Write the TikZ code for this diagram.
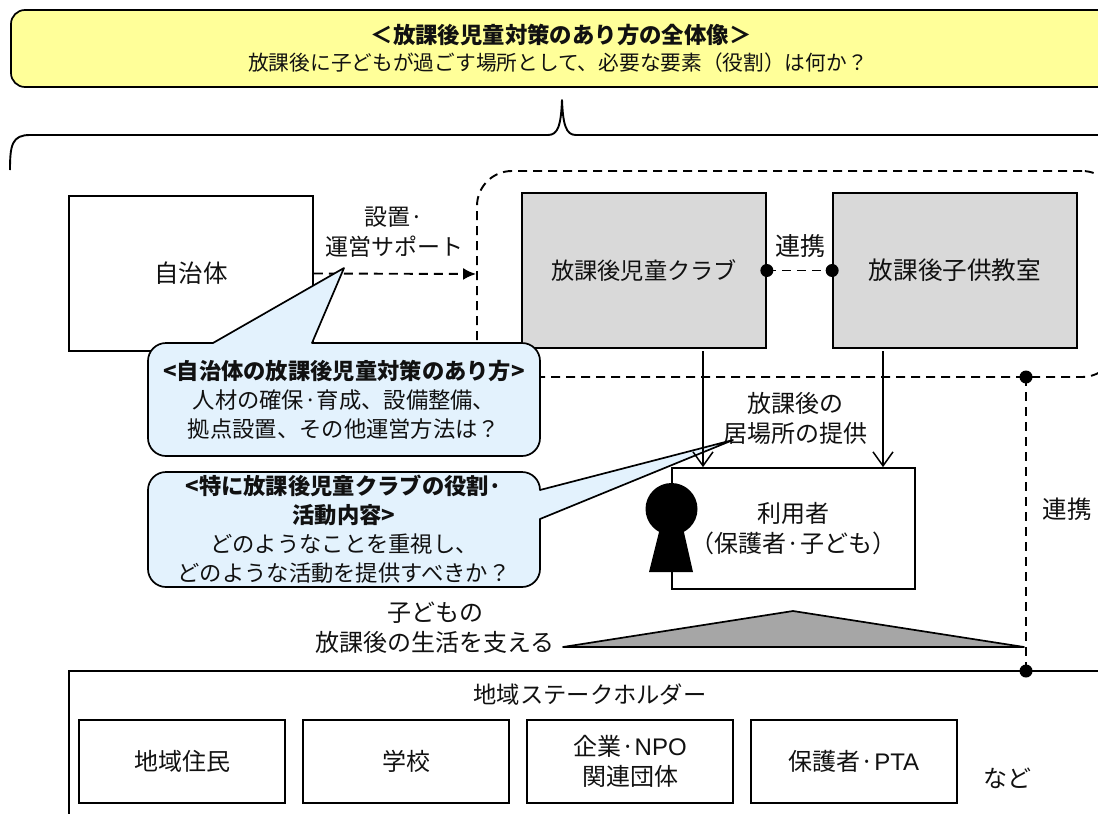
\documentclass[tikz,border=0pt]{standalone}
\usepackage{fontspec}
\usetikzlibrary{arrows.meta}
\setmainfont{Noto Sans CJK JP}
\newfontfamily\latinfont{Liberation Sans}
\definecolor{titlefill}{HTML}{FFFF99}
\definecolor{callfill}{HTML}{E3F2FD}
\definecolor{orgfill}{HTML}{D9D9D9}
\definecolor{trifill}{HTML}{A6A6A6}
\definecolor{inkc}{HTML}{111111}
\tikzset{
  lbl/.style={inner sep=0pt,align=center,text=inkc,font=\fontsize{24}{30}\selectfont},
  calltext/.style={lbl,font=\fontsize{22.3}{29}\selectfont},
  box/.style={lbl,draw=black,line width=1.7pt,inner sep=0pt},
  orgbox/.style={box,fill=orgfill,minimum width=244pt,minimum height=155pt},
  subbox/.style={box,minimum width=206pt,minimum height=83pt},
  dashline/.style={line width=1.9pt,dash pattern=on 9pt off 6pt},
  callout/.style={draw=black,fill=callfill,line width=1.7pt,line join=round},
  linkarrow/.style={line width=1.5pt,-{Straight Barb[length=14pt,width=20pt,line width=1.5pt]}}
}
\begin{document}
\begin{tikzpicture}[x=1pt,y=-1pt]
\useasboundingbox (0,0) rectangle (1098,814);
\begin{scope}
\clip (0,0) rectangle (1098,814);
\fill[white] (0,0) rectangle (1098,814);
% title
\node[box,fill=titlefill,rounded corners=14pt,minimum width=1110pt,minimum height=77pt] (title) at (566,48.5) {};
\node[lbl,font=\fontsize{22.4}{28}\selectfont] (t1) at (561,35) {\textbf{＜放課後児童対策のあり方の全体像＞}};
\node[lbl,font=\fontsize{20.7}{28}\selectfont] (t2) at (558,63) {放課後に子どもが過ごす場所として、必要な要素（役割）は何か？};
% brace
\draw[line width=1.9pt,line join=round] (10,170) .. controls (10,145) and (12,135) .. (30,135) -- (548,135) .. controls (558,135) and (561,125) .. (562,100) .. controls (563,125) and (566,135) .. (576,135) -- (1110,135);
% dashed group
\node[draw=black,dashline,rounded corners=35pt,minimum width=640pt,minimum height=206pt] (group) at (797,274) {};
% organisations
\node[box,minimum width=244pt,minimum height=155pt,font=\fontsize{24.5}{30}\selectfont] (jichi) at (191,273.5) {\raisebox{-2.5pt}{自治体}};
\node[orgbox,font=\fontsize{23.2}{30}\selectfont] (club) at (644,270.5) {\raisebox{-1.5pt}{放課後児童クラブ}};
\node[orgbox,font=\fontsize{24.6}{30}\selectfont] (kyo) at (955,270.5) {\raisebox{-1.5pt}{放課後子供教室}};
\node[box,minimum width=243pt,minimum height=121pt] (user) at (793.5,528.5) {利用者\\（保護者·子ども）};
% stakeholders
\node[box,minimum width=1100pt,minimum height=300pt] (stake) at (619,821) {};
\node[lbl,font=\fontsize{23.3}{28}\selectfont] (staketxt) at (590,695) {地域ステークホルダー};
\node[subbox] (s1) at (182,761.5) {地域住民};
\node[subbox] (s2) at (406,761.5) {学校};
\node[subbox] (s3) at (630,761.5) {\raisebox{-2pt}{企業·{\latinfont NPO}}\\\raisebox{-2pt}{関連団体}};
\node[subbox] (s4) at (854,761.5) {保護者·{\latinfont PTA}};
\node[lbl] (etc) at (1007,778) {など};
% labels
\node[lbl,font=\fontsize{23}{30}\selectfont] (setchi) at (394,232) {設置·\\運営サポート};
\node[lbl,font=\fontsize{25}{30}\selectfont] (ren1) at (800,246) {連携};
\node[lbl,font=\fontsize{24.5}{30}\selectfont] (ren2) at (1067,509) {連携};
\node[lbl] (ibasho) at (795,418) {放課後の\\居場所の提供};
\node[lbl] (seikatsu) at (435,628) {子どもの\\放課後の生活を支える};
% connectors
\coordinate (a1) at (703,351);
\coordinate (a2) at (883,351);
\coordinate (gdot) at (1026,377);
\coordinate (sdot) at (1026,671);
\draw[dashline,-{Latex[length=13pt,width=12pt]}] (jichi.east) -- (group.west);
\draw[dashline] (club.east) -- (kyo.west);
\fill (club.east) circle (6.5pt) (kyo.west) circle (6.5pt);
\draw[dashline] (gdot) -- (sdot);
\fill (gdot) circle (6.5pt) (sdot) circle (6.5pt);
% triangle
\draw[line width=1.7pt,fill=trifill,line join=round] (563,647) -- (793,611) -- (1024,647) -- cycle;
% keyhole person
\fill (671.5,509) circle (26pt);
\fill (660,528) -- (683,528) -- (693,572) -- (649,572) -- cycle;
% callouts
\draw[callout] (148,361) arc[start angle=180,end angle=270,radius=18] -- (213,343) -- (344,268) -- (312,343) -- (522,343) arc[start angle=270,end angle=360,radius=18] -- (540,438) arc[start angle=0,end angle=90,radius=18] -- (166,456) arc[start angle=90,end angle=180,radius=18] -- cycle;
\node[calltext] (c1) at (344,400) {\textbf{<自治体の放課後児童対策のあり方>}\\人材の確保·育成、設備整備、\\拠点設置、その他運営方法は？};
\draw[callout] (148,490) arc[start angle=180,end angle=270,radius=18] -- (522,472) arc[start angle=270,end angle=360,radius=18] -- (733,440) -- (540,519) -- (540,569) arc[start angle=0,end angle=90,radius=18] -- (166,587) arc[start angle=90,end angle=180,radius=18] -- cycle;
\node[calltext] (c2) at (344,529.5) {\textbf{<特に放課後児童クラブの役割·}\\\textbf{活動内容>}\\どのようなことを重視し、\\どのような活動を提供すべきか？};
\draw[linkarrow] (a1) -- (a1 |- user.north);
\draw[linkarrow] (a2) -- (a2 |- user.north);
\end{scope}
\end{tikzpicture}
\end{document}
